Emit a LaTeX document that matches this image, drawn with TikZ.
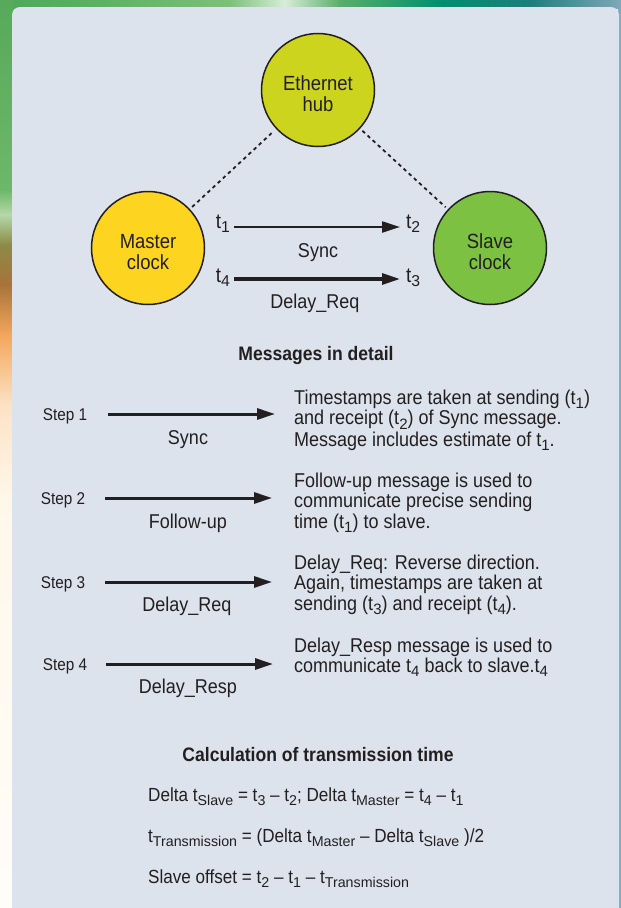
\documentclass[tikz,border=0pt]{standalone}
\usepackage{fontspec}
\setmainfont{Liberation Sans}[FakeStretch=0.9]
\newfontfamily\subfont{Liberation Sans}
\usetikzlibrary{arrows.meta}
\definecolor{panelc}{HTML}{DCE3EC}
\definecolor{inkc}{HTML}{231F20}
\definecolor{hubc}{HTML}{CDD41E}
\definecolor{masterc}{HTML}{FDD41F}
\definecolor{slavec}{HTML}{7CC142}
\definecolor{bgc}{HTML}{FFFDF8}
\definecolor{tA}{HTML}{4EA85B}
\definecolor{tB}{HTML}{5BB061}
\definecolor{tC}{HTML}{7CC07A}
\definecolor{tD}{HTML}{D8EDD8}
\definecolor{tE}{HTML}{5AAE6A}
\definecolor{tF}{HTML}{008F6F}
\definecolor{tG}{HTML}{1E7D7C}
\definecolor{tH}{HTML}{7FA8B8}
\definecolor{lA}{HTML}{56AA5A}
\definecolor{lB}{HTML}{6CB868}
\definecolor{lC}{HTML}{B5D8A8}
\definecolor{lD}{HTML}{8C8A48}
\definecolor{lE}{HTML}{A8733A}
\definecolor{lF}{HTML}{F4A65C}
\definecolor{lG}{HTML}{FCE2C4}
\definecolor{lH}{HTML}{FFF8EA}
\definecolor{lI}{HTML}{FFFDF8}
\makeatletter
\newcommand{\sbs}[1]{\raisebox{-0.22em}[0pt][0pt]{\subfont\fontsize{\fpeval{0.75*\f@size}}{0}\selectfont #1}}
\makeatother
\tikzset{
  circ/.style={circle, draw=inkc, line width=1.5bp, minimum size=113bp, inner sep=0pt},
  ctext/.style={align=center, text=inkc, inner sep=0pt, font=\fontsize{20.5bp}{21bp}\selectfont},
  lbl/.style={text=inkc, inner sep=0pt, anchor=base, font=\fontsize{20bp}{21bp}\selectfont},
  tl/.style={text=inkc, inner sep=0pt, font=\fontsize{21bp}{22bp}\selectfont},
  steplbl/.style={text=inkc, inner sep=0pt, anchor=base, font=\fontsize{17bp}{18bp}\selectfont},
  body/.style={text=inkc, inner sep=0pt, anchor=base west, font=\fontsize{20bp}{20.5bp}\selectfont},
  head/.style={text=inkc, inner sep=0pt, anchor=base, font=\fontsize{19.5bp}{21bp}\bfseries\selectfont},
  formula/.style={text=inkc, inner sep=0pt, anchor=base west, font=\fontsize{19bp}{20bp}\selectfont},
  msg/.style={line width=3bp, draw=inkc, -{Triangle[length=18bp,width=11bp]}},
  hubline/.style={line width=1.8bp, draw=inkc, dash pattern=on 3.5bp off 3.5bp, shorten <=3bp, shorten >=3bp},
}
\begin{document}
\begin{tikzpicture}[x=1bp,y=-1bp]
\useasboundingbox (0,0) rectangle (621,908);
\clip (0,0) rectangle (621,908);
% background
\fill[bgc] (0,0) rectangle (621,908);
\fill[left color=tA, right color=tB] (0,0) rectangle (90,8);
\fill[left color=tB, right color=tC] (89.5,0) rectangle (230,8);
\fill[left color=tC, right color=tD] (229.5,0) rectangle (285,8);
\fill[left color=tD, right color=tE] (284.5,0) rectangle (340,8);
\fill[left color=tE, right color=tF] (339.5,0) rectangle (440,8);
\fill[left color=tF, right color=tG] (439.5,0) rectangle (530,8);
\fill[left color=tG, right color=tH] (529.5,0) rectangle (621,8);
\fill[tH] (618,0) rectangle (621,908);
% left strip
\fill[top color=lA, bottom color=lB] (0,0) rectangle (14,190);
\fill[top color=lB, bottom color=lC] (0,189.5) rectangle (14,215);
\fill[top color=lC, bottom color=lD] (0,214.5) rectangle (14,245);
\fill[top color=lD, bottom color=lE] (0,244.5) rectangle (14,285);
\fill[top color=lE, bottom color=lF] (0,284.5) rectangle (14,335);
\fill[top color=lF, bottom color=lG] (0,334.5) rectangle (14,405);
\fill[top color=lG, bottom color=lH] (0,404.5) rectangle (14,500);
\fill[top color=lH, bottom color=lI] (0,499.5) rectangle (14,908);
% panel
\fill[panelc, rounded corners=8bp] (12,7) rectangle (619,930);

% circles
\node[circ, fill=hubc] (hub) at (318,90) {};
\node[circ, fill=masterc] (master) at (148,248) {};
\node[circ, fill=slavec] (slave) at (490,248) {};
\node[ctext] (hubt) at (318,93.9) {Ethernet\\hub};
\node[ctext] (mastert) at (148,251.8) {Master\\clock};
\node[ctext] (slavet) at (490,251.8) {Slave\\clock};
\draw[hubline] (master) -- (hub);
\draw[hubline] (hub) -- (slave);

% top messages
\coordinate (syA) at (234,227);
\coordinate (syB) at (400,227);
\coordinate (drA) at (234,279);
\coordinate (drB) at (400,279);
\draw[msg, line width=2.2bp] (syA) -- (syB);
\draw[msg, line width=3.2bp] (drA) -- (drB);
\node[tl, anchor=base east] (t1) at (230,228) {t\sbs{1}};
\node[tl, anchor=base west] (t2) at (406,228) {t\sbs{2}};
\node[tl, anchor=base east] (t4) at (230,282) {t\sbs{4}};
\node[tl, anchor=base west] (t3) at (406,282) {t\sbs{3}};
\node[lbl] (synclbl) at (318,257) {Sync};
\node[lbl] (dreqlbl) at (315,308) {Delay\_Req};

% messages in detail
\node[head] (mhead) at (316,360.5) {Messages in detail};

\node[steplbl] (st1) at (65,420) {Step 1};
\node[steplbl] (st2) at (63,504) {Step 2};
\node[steplbl] (st3) at (63,588) {Step 3};
\node[steplbl] (st4) at (65,670) {Step 4};

\coordinate (a1) at (108,414); \coordinate (b1) at (275,414);
\coordinate (a2) at (105,498); \coordinate (b2) at (272,498);
\coordinate (a3) at (105,582); \coordinate (b3) at (272,582);
\coordinate (a4) at (106,664); \coordinate (b4) at (273,664);
\draw[msg] (a1) -- (b1);
\draw[msg] (a2) -- (b2);
\draw[msg] (a3) -- (b3);
\draw[msg] (a4) -- (b4);

\node[lbl] (m1) at (188,444) {Sync};
\node[lbl] (m2) at (188,528) {Follow-up};
\node[lbl] (m3) at (187,611) {Delay\_Req};
\node[lbl] (m4) at (188,693) {Delay\_Resp};

\node[body] (d1a) at (294,404.5) {Timestamps are taken at sending (t\sbs{1})};
\node[body] (d1b) at (294,424.8) {and receipt (t\sbs{2}) of Sync message.};
\node[body] (d1c) at (294,446) {Message includes estimate of t\sbs{1}.};
\node[body] (d2a) at (294,487) {Follow-up message is used to};
\node[body] (d2b) at (294,507.5) {communicate precise sending};
\node[body] (d2c) at (294,528) {time (t\sbs{1}) to slave.};
\node[body] (d3a) at (294,569) {Delay\_Req: Reverse direction.};
\node[body] (d3b) at (294,589.5) {Again, timestamps are taken at};
\node[body] (d3c) at (294,610) {sending (t\sbs{3}) and receipt (t\sbs{4}).};
\node[body] (d4a) at (294,652) {Delay\_Resp message is used to};
\node[body] (d4b) at (294,672.5) {communicate t\sbs{4} back to slave.t\sbs{4}};

% calculation
\node[head] (chead) at (318,761.5) {Calculation of transmission time};
\node[formula] (f1) at (148,801.5) {Delta t\sbs{Slave} = t\sbs{3} – t\sbs{2}; Delta t\sbs{Master} = t\sbs{4} – t\sbs{1}};
\node[formula] (f2) at (148,842.5) {t\sbs{Transmission} = (Delta t\sbs{Master} – Delta t\sbs{Slave} )/2};
\node[formula] (f3) at (148,883.3) {Slave offset = t\sbs{2} – t\sbs{1} – t\sbs{Transmission}};
\end{tikzpicture}
\end{document}
